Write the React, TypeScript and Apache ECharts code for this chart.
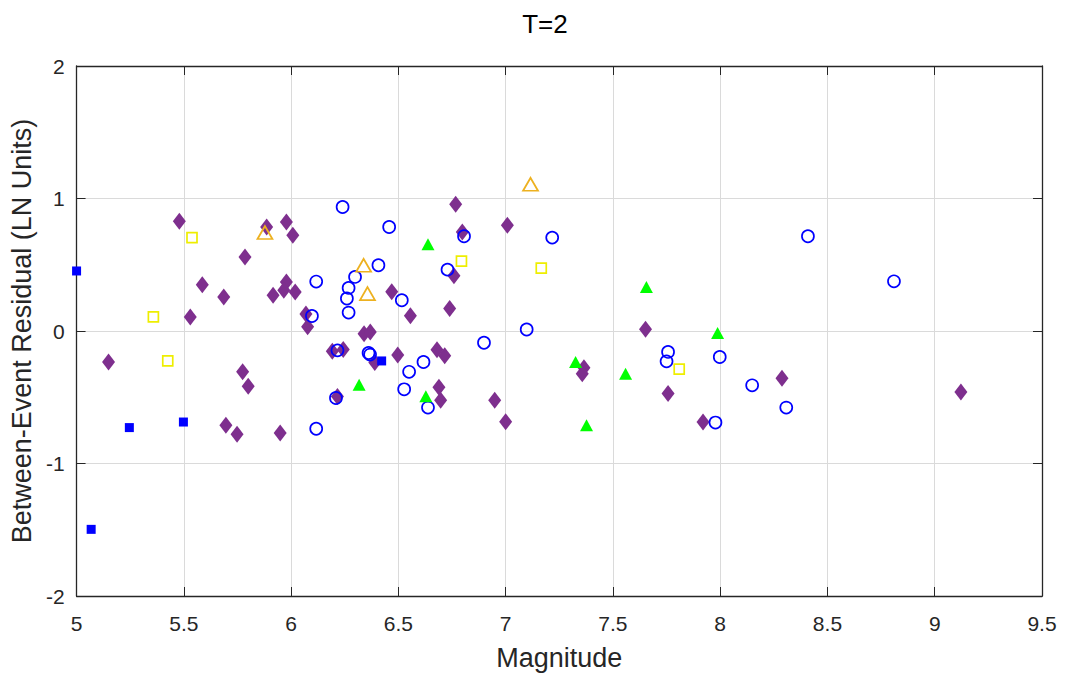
import React, { useEffect, useRef } from "react";
import * as echarts from "echarts";

// [magnitude, residual] pairs for each event group
const diamondPts: [number, number][] = [
  [5.479, 0.828], [5.886, 0.785], [5.978, 0.823], [6.008, 0.722], [5.785, 0.558],
  [5.586, 0.35], [5.686, 0.257], [5.53, 0.106], [5.916, 0.269], [5.978, 0.37],
  [5.966, 0.307], [6.019, 0.294], [6.069, 0.128], [6.077, 0.032], [5.149, -0.234],
  [5.774, -0.308], [5.8, -0.417], [5.696, -0.712], [5.748, -0.78], [5.949, -0.77],
  [6.767, 0.956], [6.798, 0.747], [7.008, 0.798], [6.759, 0.417], [6.739, 0.169],
  [6.469, 0.296], [6.556, 0.115], [6.34, -0.02], [6.369, -0.008], [6.192, -0.153],
  [6.243, -0.14], [6.39, -0.238], [6.497, -0.181], [6.68, -0.142], [6.716, -0.187],
  [6.216, -0.495], [6.689, -0.425], [6.697, -0.523], [6.949, -0.523], [7.0, -0.685],
  [7.365, -0.278], [7.357, -0.322], [7.652, 0.013], [7.757, -0.472], [7.92, -0.687],
  [8.288, -0.357], [9.122, -0.46],
];

const circlePts: [number, number][] = [
  [6.24, 0.936], [6.457, 0.785], [6.806, 0.715], [7.217, 0.705], [8.409, 0.715],
  [8.81, 0.375], [6.729, 0.463], [6.407, 0.496], [6.117, 0.373], [6.298, 0.408],
  [6.268, 0.325], [6.26, 0.245], [6.268, 0.139], [6.516, 0.232], [6.097, 0.113],
  [6.899, -0.089], [7.098, 0.011], [6.216, -0.146], [6.361, -0.166], [6.368, -0.178],
  [6.55, -0.308], [6.617, -0.234], [6.527, -0.44], [6.209, -0.506], [6.638, -0.578],
  [6.117, -0.738], [7.757, -0.158], [7.75, -0.229], [7.998, -0.196], [8.149, -0.41],
  [8.308, -0.578], [7.978, -0.691],
];

const filledSquarePts: [number, number][] = [
  [5.0, 0.453], [5.068, -1.497], [5.246, -0.729], [5.498, -0.687], [6.422, -0.226],
];

const openSquarePts: [number, number][] = [
  [5.538, 0.705], [5.358, 0.106], [5.425, -0.226], [6.794, 0.528], [7.166, 0.475],
  [7.809, -0.287],
];

const openTrianglePts: [number, number][] = [
  [5.878, 0.743], [6.338, 0.496], [6.356, 0.282], [7.116, 1.107],
];

const filledTrianglePts: [number, number][] = [
  [6.638, 0.654], [6.317, -0.405], [6.628, -0.493], [7.656, 0.332], [7.326, -0.234],
  [7.377, -0.712], [7.559, -0.322], [7.988, -0.015],
];

const xMin = 5;
const xMax = 9.5;
const xStep = 0.5;
const yMin = -2;
const yMax = 2;
const yStep = 1;

const FONT = "'Liberation Sans', Arial, sans-serif";
const INK = "#262626";

export default function App() {
  const ref = useRef<HTMLDivElement>(null);

  useEffect(() => {
    if (!ref.current) return;
    const chart = echarts.init(ref.current, undefined, { renderer: "svg" });

    const tick = { show: true, inside: true, length: 9, lineStyle: { color: INK, width: 1 } };
    const line = { show: true, onZero: false, lineStyle: { color: INK, width: 1.3 } };

    const hollow = (color: string, width = 1.7) => ({
      color: "rgba(0,0,0,0)",
      borderColor: color,
      borderWidth: width,
      opacity: 1,
    });
    const solid = (color: string) => ({ color, opacity: 1 });

    chart.setOption({
      animation: false,
      backgroundColor: "#ffffff",
      title: {
        text: "T=2",
        left: 540,
        top: 6,
        textAlign: "center",
        textStyle: { fontFamily: FONT, fontSize: 26, fontWeight: "normal", color: "#000" },
      },
      grid: { left: 75, top: 66, width: 967, height: 530, containLabel: false },
      xAxis: [
        {
          type: "value",
          min: xMin,
          max: xMax,
          interval: xStep,
          position: "bottom",
          axisLine: line,
          axisTick: tick,
          axisLabel: { color: INK, fontFamily: FONT, fontSize: 21, margin: 17 },
          splitLine: { show: true, lineStyle: { color: "#dadada", width: 1 } },
          name: "Magnitude",
          nameLocation: "middle",
          nameGap: 48,
          nameTextStyle: { color: INK, fontFamily: FONT, fontSize: 27 },
        },
        {
          type: "value",
          min: xMin,
          max: xMax,
          interval: xStep,
          position: "top",
          axisLine: line,
          axisTick: tick,
          axisLabel: { show: false },
          splitLine: { show: false },
        },
      ],
      yAxis: [
        {
          type: "value",
          min: yMin,
          max: yMax,
          interval: yStep,
          position: "left",
          axisLine: line,
          axisTick: tick,
          axisLabel: { color: INK, fontFamily: FONT, fontSize: 21, margin: 12 },
          splitLine: { show: true, lineStyle: { color: "#dadada", width: 1 } },
          name: "Between-Event Residual (LN Units)",
          nameLocation: "middle",
          nameGap: 34,
          nameTextStyle: { color: INK, fontFamily: FONT, fontSize: 27 },
        },
        {
          type: "value",
          min: yMin,
          max: yMax,
          interval: yStep,
          position: "right",
          axisLine: line,
          axisTick: tick,
          axisLabel: { show: false },
          splitLine: { show: false },
        },
      ],
      series: [
        {
          type: "scatter",
          data: diamondPts,
          symbol: "diamond",
          symbolSize: [13, 17],
          itemStyle: solid("#7E2F8E"),
        },
        {
          type: "scatter",
          data: circlePts,
          symbol: "circle",
          symbolSize: 12,
          itemStyle: hollow("#0000FF"),
        },
        {
          type: "scatter",
          data: filledSquarePts,
          symbol: "rect",
          symbolSize: 9,
          itemStyle: solid("#0000FF"),
        },
        {
          type: "scatter",
          data: openSquarePts,
          symbol: "rect",
          symbolSize: 10,
          itemStyle: hollow("#EEEE00"),
        },
        {
          type: "scatter",
          data: openTrianglePts,
          symbol: "triangle",
          symbolSize: [15, 13],
          itemStyle: hollow("#EDB120"),
        },
        {
          type: "scatter",
          data: filledTrianglePts,
          symbol: "triangle",
          symbolSize: [13, 12],
          itemStyle: solid("#00FF00"),
        },
      ].map((s) => ({ ...s, xAxisIndex: 0, yAxisIndex: 0, emphasis: { disabled: true } })),
    });

    return () => chart.dispose();
  }, []);

  return (
    <div
      ref={ref}
      style={{ position: "fixed", left: 0, top: 0, width: 1066, height: 677 }}
    />
  );
}
